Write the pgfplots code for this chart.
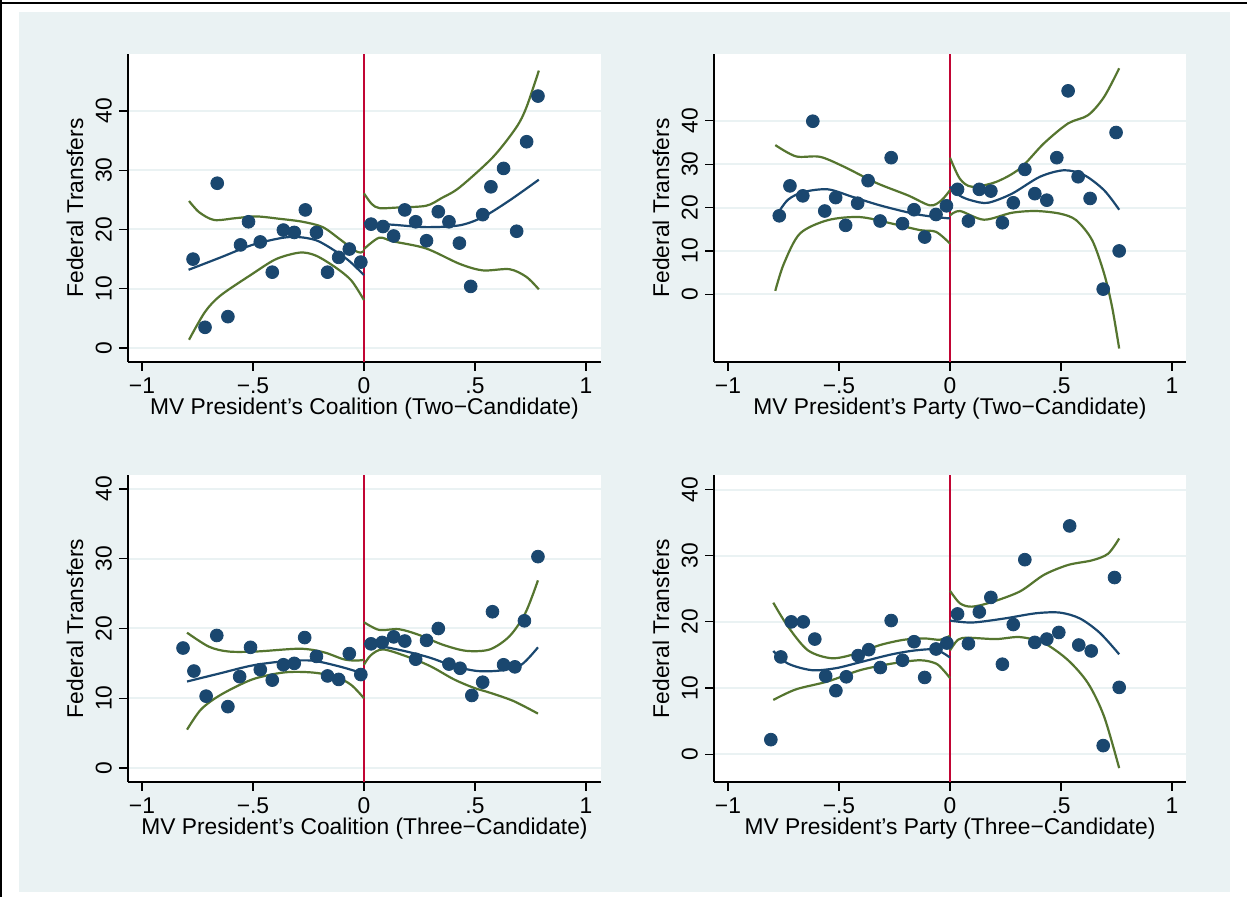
\documentclass[border=0pt]{standalone}
\usepackage{pgfplots}
\pgfplotsset{compat=1.18}
\usepackage{fontspec}
\setmainfont{Liberation Sans}

\definecolor{stnavy}{RGB}{26,71,111}
\definecolor{stgreen}{RGB}{85,117,47}
\definecolor{stred}{RGB}{193,5,52}
\definecolor{stbg}{RGB}{234,242,243}

\pgfplotsset{
  panel/.style={
    scale only axis, anchor=south west,
    axis x line*=bottom, axis y line*=left,
    x axis line style={-}, y axis line style={-},
    axis line style={black, line width=0.6pt},
    axis background/.style={fill=white},
    tick align=outside, major tick length=4.5pt,
    tick style={black, line width=0.6pt},
    xtick={-1,-0.5,0,0.5,1}, xticklabels={−1,−.5,0,.5,1},
    ytick={0,10,20,30,40}, yticklabels={0,10,20,30,40},
    yticklabel style={rotate=90, anchor=south},
    ymajorgrids, grid style={stbg, line width=1pt},
    font=\fontsize{11.4}{13.5}\selectfont,
    ylabel={Federal Transfers},
    every axis y label/.style={at={(axis description cs:0,0.5)}, xshift=-26.5pt, rotate=90, anchor=center},
    every axis x label/.style={at={(axis description cs:0.5,0)}, yshift=-23.5pt, anchor=center},
  },
  dots/.style={only marks, mark=*, mark size=3.2pt, color=stnavy, mark options={fill=stnavy, draw=stnavy}},
  fitl/.style={stnavy, line width=1.1pt, smooth, no marks},
  cil/.style={stgreen, line width=1.1pt, smooth, no marks},
  cut/.style={stred, line width=0.9pt, no marks},
}

\begin{document}
\begin{tikzpicture}
\useasboundingbox (0,0) rectangle (623.5pt,448.5pt);
\fill[white] (0,0) rectangle (623.5pt,448.5pt);
\fill[stbg] (9.5pt,2.5pt) rectangle (615pt,442.5pt);
\draw[black, line width=1pt] (0,447pt) -- (623.5pt,447pt);
\draw[black, line width=1pt] (0.6pt,0) -- (0.6pt,448.5pt);

% top left: coalition, two-candidate
\begin{axis}[panel, at={(64pt,267.5pt)}, width=236.5pt, height=154pt,
    xmin=-1.063, xmax=1.068, ymin=-2.35, ymax=49.6,
    xlabel={MV President’s Coalition (Two−Candidate)}]
\addplot[cut] coordinates {(0,-2.35) (0,49.6)};
\addplot[dots] coordinates {
(-0.770,15.0) (-0.716,3.5) (-0.661,27.8) (-0.613,5.3) (-0.556,17.4) (-0.520,21.3)
(-0.467,17.9) (-0.413,12.8) (-0.363,19.9) (-0.314,19.5) (-0.264,23.3) (-0.214,19.5)
(-0.164,12.8) (-0.114,15.3) (-0.066,16.7) (-0.014,14.5) (0.032,20.9) (0.086,20.5)
(0.134,18.9) (0.184,23.3) (0.233,21.3) (0.282,18.1) (0.335,23.0) (0.383,21.3)
(0.430,17.7) (0.481,10.4) (0.535,22.5) (0.572,27.2) (0.629,30.3) (0.688,19.7)
(0.733,34.8) (0.784,42.5)
};
\addplot[cil] coordinates {(-0.788,24.8) (-0.742,22.9) (-0.675,21.6) (-0.58,21.9) (-0.485,22.2) (-0.38,21.8) (-0.276,21.3) (-0.186,20.4) (-0.11,18.4) (-0.043,16.5) (-0.015,16.1) (0,16.4)};
\addplot[cil] coordinates {(-0.788,1.4) (-0.716,6.1) (-0.645,8.9) (-0.503,12.5) (-0.396,15.0) (-0.289,16.1) (-0.217,15.6) (-0.128,13.6) (-0.057,11.4) (0,8.1)};
\addplot[fitl] coordinates {(-0.79,13.2) (-0.645,15.3) (-0.503,17.4) (-0.366,18.6) (-0.289,18.7) (-0.217,18.2) (-0.156,17.0) (-0.07,14.8) (0,12.3)};
\addplot[cil] coordinates {(0,26.1) (0.035,24.3) (0.07,23.6) (0.15,23.7) (0.28,24.0) (0.35,25.3) (0.431,27.1) (0.581,32.2) (0.686,37.2) (0.732,40.6) (0.788,46.8)};
\addplot[cil] coordinates {(0,16.7) (0.068,18.6) (0.13,18.0) (0.28,16.8) (0.431,14.2) (0.536,13.1) (0.656,13.3) (0.732,12.0) (0.788,9.9)};
\addplot[fitl] coordinates {(0,21.1) (0.13,20.8) (0.28,20.4) (0.431,20.7) (0.536,22.1) (0.656,24.9) (0.788,28.4)};
\end{axis}

% top right: party, two-candidate
\begin{axis}[panel, at={(357pt,267.5pt)}, width=236pt, height=154pt,
    xmin=-1.063, xmax=1.063, ymin=-15.6, ymax=55.4,
    xlabel={MV President’s Party (Two−Candidate)}]
\addplot[cut] coordinates {(0,-15.6) (0,55.4)};
\addplot[dots] coordinates {
(-0.769,18.1) (-0.721,25.0) (-0.663,22.7) (-0.618,39.9) (-0.564,19.2) (-0.515,22.3)
(-0.470,15.9) (-0.416,21.0) (-0.369,26.2) (-0.315,16.9) (-0.265,31.5) (-0.214,16.3)
(-0.162,19.5) (-0.114,13.2) (-0.063,18.4) (-0.016,20.4) (0.034,24.2) (0.083,16.9)
(0.132,24.2) (0.184,23.8) (0.236,16.5) (0.285,21.1) (0.337,28.8) (0.382,23.2)
(0.436,21.7) (0.481,31.5) (0.532,46.9) (0.577,27.1) (0.631,22.1) (0.690,1.2)
(0.748,37.3) (0.762,10.0)
};
\addplot[cil] coordinates {(-0.787,34.4) (-0.694,31.8) (-0.586,31.7) (-0.477,29.4) (-0.333,25.7) (-0.189,22.8) (-0.09,20.5) (-0.04,21.6) (0,24.0)};
\addplot[cil] coordinates {(-0.787,0.8) (-0.748,7.1) (-0.676,14.0) (-0.55,17.1) (-0.405,17.8) (-0.261,16.3) (-0.135,14.8) (-0.063,14.4) (0,11.7)};
\addplot[fitl] coordinates {(-0.784,18.0) (-0.73,21.8) (-0.658,23.6) (-0.55,24.2) (-0.441,22.5) (-0.315,20.5) (-0.165,18.6) (-0.063,17.8) (0,17.5)};
\addplot[cil] coordinates {(0,31.5) (0.045,26.6) (0.099,24.8) (0.207,25.9) (0.315,29.0) (0.423,34.8) (0.532,39.4) (0.622,41.3) (0.694,45.5) (0.762,52.1)};
\addplot[cil] coordinates {(0,18.2) (0.045,19.2) (0.153,17.2) (0.279,18.8) (0.387,19.2) (0.495,18.6) (0.568,17.1) (0.64,12.5) (0.694,4.8) (0.73,-2.9) (0.762,-12.5)};
\addplot[fitl] coordinates {(0,24.8) (0.045,22.7) (0.1,21.6) (0.171,21.1) (0.279,23.2) (0.405,27.1) (0.514,28.6) (0.604,27.5) (0.694,24.0) (0.762,19.5)};
\end{axis}

% bottom left: coalition, three-candidate
\begin{axis}[panel, at={(64pt,57.5pt)}, width=236.5pt, height=153.5pt,
    xmin=-1.063, xmax=1.068, ymin=-2.0, ymax=42.0,
    xlabel={MV President’s Coalition (Three−Candidate)}]
\addplot[cut] coordinates {(0,-2.0) (0,42.0)};
\addplot[dots] coordinates {
(-0.815,17.2) (-0.766,13.9) (-0.711,10.3) (-0.663,19.0) (-0.613,8.8) (-0.560,13.1)
(-0.511,17.3) (-0.467,14.1) (-0.413,12.6) (-0.363,14.8) (-0.314,15.0) (-0.267,18.7)
(-0.214,16.0) (-0.164,13.2) (-0.114,12.7) (-0.066,16.4) (-0.014,13.4) (0.032,17.8)
(0.082,18.0) (0.134,18.8) (0.184,18.2) (0.233,15.6) (0.282,18.3) (0.335,20.0)
(0.383,14.9) (0.433,14.3) (0.486,10.4) (0.535,12.3) (0.579,22.4) (0.629,14.8)
(0.680,14.5) (0.723,21.1) (0.784,30.3)
};
\addplot[cil] coordinates {(-0.797,19.4) (-0.699,17.4) (-0.61,16.7) (-0.485,16.7) (-0.289,17.1) (-0.182,16.6) (-0.093,15.6) (-0.039,15.4) (0,15.5)};
\addplot[cil] coordinates {(-0.797,5.5) (-0.734,8.4) (-0.645,10.5) (-0.503,12.7) (-0.36,13.7) (-0.235,13.7) (-0.128,13.1) (-0.057,11.9) (0,10.0)};
\addplot[fitl] coordinates {(-0.797,12.4) (-0.645,13.6) (-0.503,14.7) (-0.36,15.3) (-0.235,15.4) (-0.128,14.7) (-0.039,13.9) (0,13.4)};
\addplot[cil] coordinates {(0,20.9) (0.068,19.8) (0.157,19.9) (0.246,19.1) (0.353,17.7) (0.46,16.8) (0.567,17.0) (0.656,18.9) (0.727,22.2) (0.784,26.9)};
\addplot[cil] coordinates {(0,14.8) (0.032,16.2) (0.086,17.0) (0.192,16.0) (0.299,14.6) (0.406,12.7) (0.495,11.5) (0.567,10.8) (0.674,9.6) (0.784,7.8)};
\addplot[fitl] coordinates {(0,17.8) (0.086,17.4) (0.192,16.7) (0.299,15.8) (0.406,14.6) (0.513,13.9) (0.62,14.0) (0.709,14.8) (0.784,17.3)};
\end{axis}

% bottom right: party, three-candidate
\begin{axis}[panel, at={(357pt,57.5pt)}, width=236pt, height=153.5pt,
    xmin=-1.063, xmax=1.063, ymin=-4.2, ymax=42.2,
    xlabel={MV President’s Party (Three−Candidate)}]
\addplot[cut] coordinates {(0,-4.2) (0,42.2)};
\addplot[dots] coordinates {
(-0.807,2.2) (-0.762,14.7) (-0.715,20.0) (-0.661,20.0) (-0.609,17.4) (-0.560,11.8)
(-0.514,9.6) (-0.467,11.7) (-0.414,14.9) (-0.366,15.8) (-0.314,13.1) (-0.265,20.2)
(-0.214,14.2) (-0.162,17.0) (-0.114,11.6) (-0.063,15.9) (-0.014,16.8) (0.034,21.2)
(0.083,16.7) (0.132,21.5) (0.184,23.7) (0.236,13.6) (0.285,19.6) (0.337,29.4)
(0.382,16.9) (0.436,17.4) (0.490,18.4) (0.539,34.5) (0.580,16.5) (0.636,15.6)
(0.690,1.3) (0.741,26.7) (0.762,10.1)
};
\addplot[cil] coordinates {(-0.796,22.9) (-0.73,19.3) (-0.64,15.7) (-0.532,14.5) (-0.423,15.2) (-0.315,16.5) (-0.207,17.3) (-0.117,17.5) (-0.045,17.3) (0,17.9)};
\addplot[cil] coordinates {(-0.796,8.2) (-0.694,9.8) (-0.55,11.0) (-0.405,12.7) (-0.261,13.7) (-0.135,14.2) (-0.063,13.7) (-0.027,12.6) (0,11.5)};
\addplot[fitl] coordinates {(-0.796,15.6) (-0.73,13.7) (-0.622,12.7) (-0.514,13.0) (-0.405,13.9) (-0.261,15.1) (-0.153,15.7) (-0.063,15.8) (0,14.6)};
\addplot[cil] coordinates {(0,24.7) (0.045,22.8) (0.099,22.3) (0.189,23.0) (0.315,24.6) (0.423,27.1) (0.532,28.6) (0.64,29.3) (0.712,30.3) (0.762,32.6)};
\addplot[cil] coordinates {(0,15.7) (0.036,17.3) (0.081,17.6) (0.207,17.4) (0.315,17.7) (0.423,16.8) (0.532,14.2) (0.622,10.7) (0.694,5.7) (0.762,-2.1)};
\addplot[fitl] coordinates {(0,20.2) (0.099,19.9) (0.243,20.5) (0.387,21.3) (0.495,21.4) (0.586,20.5) (0.676,18.3) (0.762,15.1)};
\end{axis}
\end{tikzpicture}
\end{document}
